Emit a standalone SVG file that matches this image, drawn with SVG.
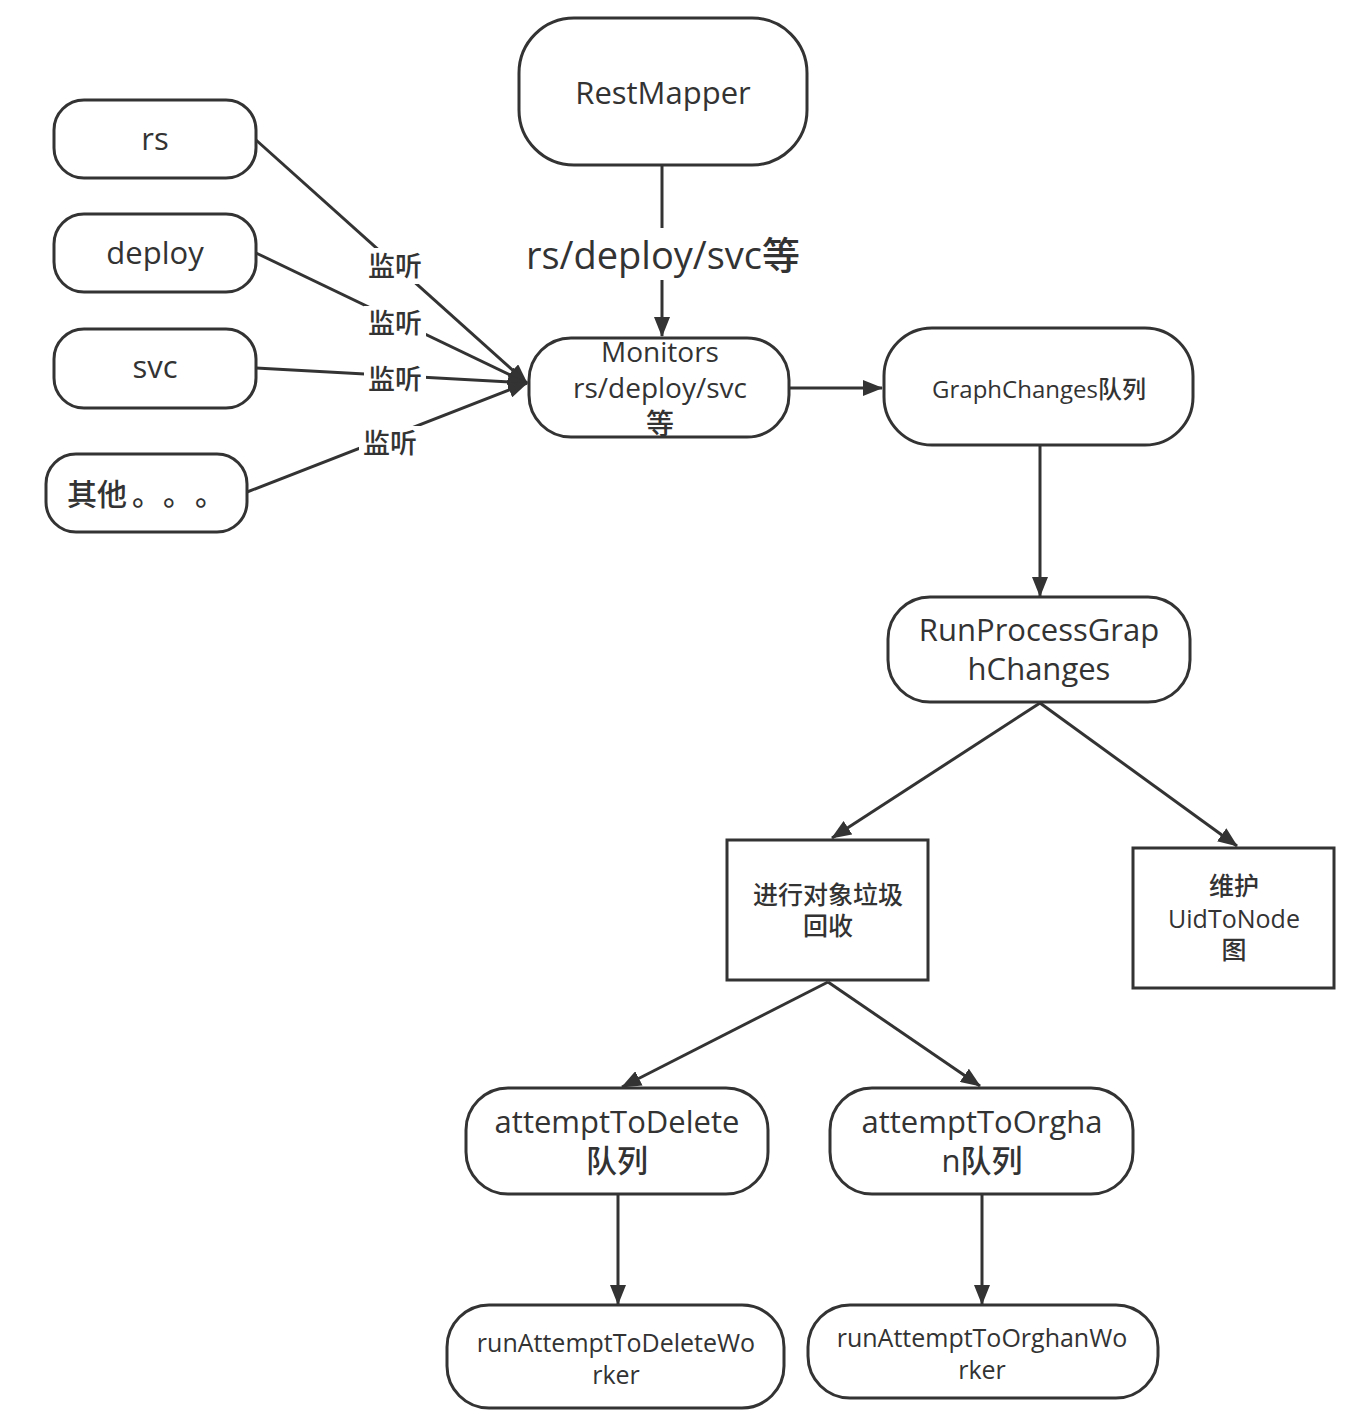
<svg xmlns="http://www.w3.org/2000/svg" width="1370" height="1426" viewBox="0 0 1370 1426">
<style>
.n{fill:#fff;stroke:#333;stroke-width:3}
.t{font-family:"Open Sans","Noto Sans CJK SC",sans-serif;fill:#333;text-anchor:middle;font-weight:500}
.e{stroke:#333;stroke-width:3;fill:none;marker-end:url(#a)}
.lb{fill:#fff}
</style>
<defs>
<marker id="a" markerUnits="userSpaceOnUse" markerWidth="20" markerHeight="16" refX="19" refY="8" orient="auto">
<path d="M0,0 L20,8 L0,16 z" fill="#333"/>
</marker>
</defs>
<rect width="1370" height="1426" fill="#fff"/>
<g id="connectors">
<line class="e" x1="256" y1="140" x2="527" y2="383"/>
<line class="e" x1="256" y1="253" x2="527" y2="383"/>
<line class="e" x1="256" y1="368" x2="527" y2="383"/>
<line class="e" x1="247" y1="492" x2="527" y2="383"/>
<line class="e" x1="662" y1="166" x2="662" y2="336"/>
<line class="e" x1="789" y1="388" x2="882" y2="388"/>
<line class="e" x1="1040" y1="446" x2="1040" y2="596"/>
<line class="e" x1="1040" y1="703" x2="832" y2="838"/>
<line class="e" x1="1040" y1="703" x2="1237" y2="846"/>
<line class="e" x1="828" y1="982" x2="622" y2="1087"/>
<line class="e" x1="828" y1="982" x2="980" y2="1086"/>
<line class="e" x1="618" y1="1195" x2="618" y2="1304"/>
<line class="e" x1="982" y1="1195" x2="982" y2="1304"/>
<rect class="lb" x="364" y="248" width="62" height="36"/>
<text class="t" x="395" y="276" font-size="27">监听</text>
<rect class="lb" x="364" y="306" width="62" height="36"/>
<text class="t" x="395" y="333" font-size="27">监听</text>
<rect class="lb" x="364" y="362" width="62" height="36"/>
<text class="t" x="395" y="389" font-size="27">监听</text>
<rect class="lb" x="359" y="426" width="62" height="36"/>
<text class="t" x="390" y="453" font-size="27">监听</text>
<rect class="lb" x="510" y="228" width="306" height="52"/>
<text class="t" x="663" y="269" font-size="38">rs/deploy/svc等</text>
</g>
<g id="rs">
<rect class="n" x="54" y="100" width="202" height="78" rx="30"/>
<text class="t" x="155" y="150" font-size="31">rs</text>
</g>
<g id="deploy">
<rect class="n" x="54" y="214" width="202" height="78" rx="30"/>
<text class="t" x="155" y="264" font-size="31">deploy</text>
</g>
<g id="svc">
<rect class="n" x="54" y="329" width="202" height="79" rx="30"/>
<text class="t" x="155" y="378" font-size="31">svc</text>
</g>
<g id="other">
<rect class="n" x="46" y="454" width="201" height="78" rx="30"/>
<text class="t" x="67" y="505" font-size="30" style="text-anchor:start">其他<tspan x="132">。</tspan><tspan x="163">。</tspan><tspan x="195">。</tspan></text>
</g>
<g id="restmapper">
<rect class="n" x="519" y="18" width="288" height="147" rx="55"/>
<text class="t" x="663" y="104" font-size="31">RestMapper</text>
</g>
<g id="monitors">
<rect class="n" x="529" y="338" width="260" height="99" rx="42"/>
<text class="t" x="660" y="362" font-size="28">Monitors</text>
<text class="t" x="660" y="398" font-size="28">rs/deploy/svc</text>
<text class="t" x="660" y="434" font-size="28">等</text>
</g>
<g id="graphchanges">
<rect class="n" x="884" y="328" width="309" height="117" rx="48"/>
<text class="t" x="1039" y="398" font-size="24">GraphChanges队列</text>
</g>
<g id="runprocess">
<rect class="n" x="888" y="597" width="302" height="105" rx="42"/>
<text class="t" x="1039" y="641" font-size="31">RunProcessGrap</text>
<text class="t" x="1039" y="680" font-size="31">hChanges</text>
</g>
<g id="gc">
<rect class="n" x="727" y="840" width="201" height="140" rx="0"/>
<text class="t" x="828" y="904" font-size="25">进行对象垃圾</text>
<text class="t" x="828" y="935" font-size="25">回收</text>
</g>
<g id="uidtonode">
<rect class="n" x="1133" y="848" width="201" height="140" rx="0"/>
<text class="t" x="1234" y="895" font-size="25">维护</text>
<text class="t" x="1234" y="928" font-size="25">UidToNode</text>
<text class="t" x="1234" y="959" font-size="25">图</text>
</g>
<g id="attemptdelete">
<rect class="n" x="466" y="1088" width="302" height="106" rx="42"/>
<text class="t" x="617" y="1133" font-size="31">attemptToDelete</text>
<text class="t" x="617" y="1172" font-size="31">队列</text>
</g>
<g id="attemptorphan">
<rect class="n" x="830" y="1088" width="303" height="106" rx="42"/>
<text class="t" x="982" y="1133" font-size="31">attemptToOrgha</text>
<text class="t" x="982" y="1172" font-size="31">n队列</text>
</g>
<g id="rundelete">
<rect class="n" x="447" y="1305" width="337" height="103" rx="42"/>
<text class="t" x="616" y="1352" font-size="25">runAttemptToDeleteWo</text>
<text class="t" x="616" y="1384" font-size="25">rker</text>
</g>
<g id="runorphan">
<rect class="n" x="808" y="1305" width="350" height="93" rx="42"/>
<text class="t" x="982" y="1347" font-size="25">runAttemptToOrghanWo</text>
<text class="t" x="982" y="1379" font-size="25">rker</text>
</g>
</svg>
